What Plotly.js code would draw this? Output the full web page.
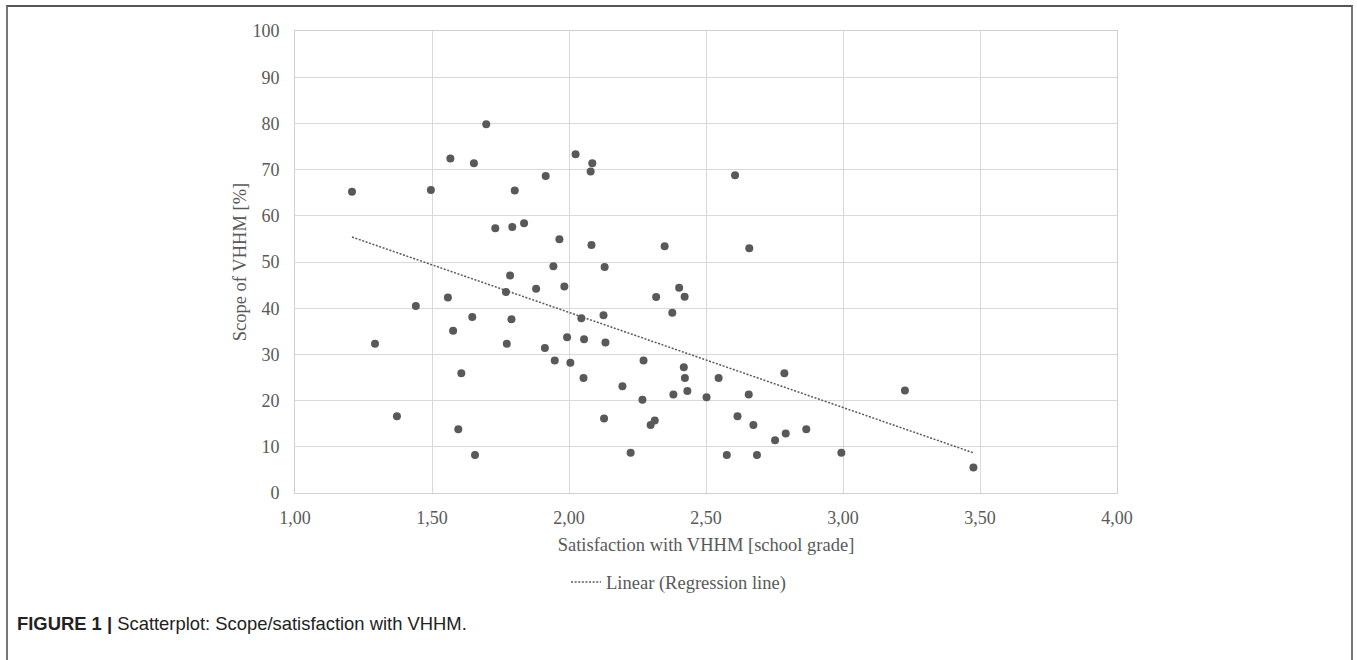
<!DOCTYPE html>
<html>
<head>
<meta charset="utf-8">
<script src="https://cdn.plot.ly/plotly-3.0.1.min.js"></script>
<style>
  html, body { margin: 0; padding: 0; background: #fff; }
  #frame { position: absolute; left: 6px; top: 5px; width: 1347px; height: 660px;
           border-top: 2px solid #555; border-left: 2px solid #777; border-right: 2px solid #777; box-sizing: border-box; }
  #chart { position: absolute; left: 0; top: 0; width: 1357px; height: 660px; }
</style>
</head>
<body>
<div id="frame"></div>
<div id="chart"></div>
<script>
// Satisfaction with VHHM [school grade]
const satisfaction = [
  1.208, 1.496, 1.567, 1.653, 1.698, 1.802, 1.915, 2.024, 1.731, 1.793,
  1.836, 1.965, 1.943, 2.085, 2.079, 2.606, 2.082, 2.349, 2.658, 2.130,
  1.785, 1.558, 1.770, 1.880, 1.983, 1.441, 1.647, 1.790, 1.577, 1.292,
  1.773, 1.912, 1.993, 1.948, 2.005, 1.607, 1.372, 1.596, 1.657, 2.318,
  2.402, 2.422, 2.377, 2.045, 2.126, 2.055, 2.133, 2.053, 2.272, 2.195,
  2.268, 2.419, 2.423, 2.381, 2.432, 2.546, 2.502, 2.656, 2.786, 2.128,
  2.298, 2.313, 2.225, 2.615, 2.673, 2.752, 2.791, 2.866, 2.576, 2.686,
  2.994, 3.226, 3.476
];
// Scope of VHHM [%]
const scope = [
  65.2, 65.6, 72.4, 71.4, 79.8, 65.5, 68.6, 73.3, 57.3, 57.6,
  58.4, 54.9, 49.1, 71.4, 69.6, 68.8, 53.7, 53.4, 53.0, 48.9,
  47.1, 42.3, 43.5, 44.2, 44.7, 40.5, 38.1, 37.6, 35.1, 32.3,
  32.3, 31.4, 33.7, 28.7, 28.2, 25.9, 16.6, 13.8, 8.2, 42.4,
  44.4, 42.5, 39.0, 37.8, 38.5, 33.3, 32.6, 24.9, 28.7, 23.1,
  20.2, 27.2, 24.9, 21.3, 22.1, 24.9, 20.7, 21.3, 25.9, 16.1,
  14.7, 15.7, 8.7, 16.6, 14.7, 11.4, 12.9, 13.8, 8.2, 8.2,
  8.7, 22.2, 5.5
];
// Regression line
const regressionX = [1.208, 3.476];
const regressionY = [55.4, 8.7];

const xTickVals = [1.0, 1.5, 2.0, 2.5, 3.0, 3.5, 4.0];
const xTickText = ["1,00", "1,50", "2,00", "2,50", "3,00", "3,50", "4,00"];
const yTickVals = [0, 10, 20, 30, 40, 50, 60, 70, 80, 90, 100];

const grey = "#595959";
const serif = "Liberation Serif, Times New Roman, serif";

const traces = [
  {
    type: "scatter", mode: "markers",
    x: satisfaction, y: scope,
    marker: { color: grey, size: 8 },
    showlegend: false, hoverinfo: "x+y"
  },
  {
    type: "scatter", mode: "lines",
    x: regressionX, y: regressionY,
    line: { color: grey, width: 1.5, dash: "2px,1.6px" },
    name: "Linear (Regression line)"
  }
];

const layout = {
  width: 1357, height: 660,
  margin: { l: 295, r: 240, t: 31, b: 166.5, pad: 0 },
  paper_bgcolor: "rgba(0,0,0,0)", plot_bgcolor: "#fff",
  font: { family: serif, size: 18, color: grey },
  xaxis: {
    range: [1, 4], tickvals: xTickVals, ticktext: xTickText,
    showgrid: true, gridcolor: "#d9d9d9", gridwidth: 1,
    showline: true, linecolor: "#d0d0d0", linewidth: 1, mirror: true,
    zeroline: false, ticks: "outside", ticklen: 8, tickcolor: "rgba(0,0,0,0)",
    tickfont: { family: serif, size: 18, color: grey },
    title: { text: "Satisfaction with VHHM [school grade]", font: { family: serif, size: 18.5, color: grey }, standoff: 11 },
    automargin: false, fixedrange: true
  },
  yaxis: {
    range: [0, 100], tickvals: yTickVals,
    showgrid: true, gridcolor: "#d9d9d9", gridwidth: 1,
    showline: true, linecolor: "#d0d0d0", linewidth: 1, mirror: true,
    zeroline: false, ticks: "outside", ticklen: 11, tickcolor: "rgba(0,0,0,0)",
    tickfont: { family: serif, size: 18, color: grey },
    title: { text: "Scope of VHHM [%]", font: { family: serif, size: 18.5, color: grey }, standoff: 0 },
    automargin: false, fixedrange: true
  },
  showlegend: true,
  legend: {
    orientation: "h", x: 0.4666, xanchor: "center", y: -0.1935, yanchor: "middle",
    font: { family: serif, size: 18.5, color: grey }, bgcolor: "rgba(0,0,0,0)"
  },
  annotations: [
    {
      xref: "paper", yref: "paper", x: -0.3406, y: -0.282, xanchor: "left", yanchor: "middle",
      showarrow: false, align: "left",
      text: "<b>FIGURE 1 |</b> Scatterplot: Scope/satisfaction with VHHM.",
      font: { family: "Liberation Sans, Arial, sans-serif", size: 18.4, color: "#222" }
    }
  ]
};

Plotly.newPlot("chart", traces, layout, { staticPlot: true, displayModeBar: false });
</script>
</body>
</html>
